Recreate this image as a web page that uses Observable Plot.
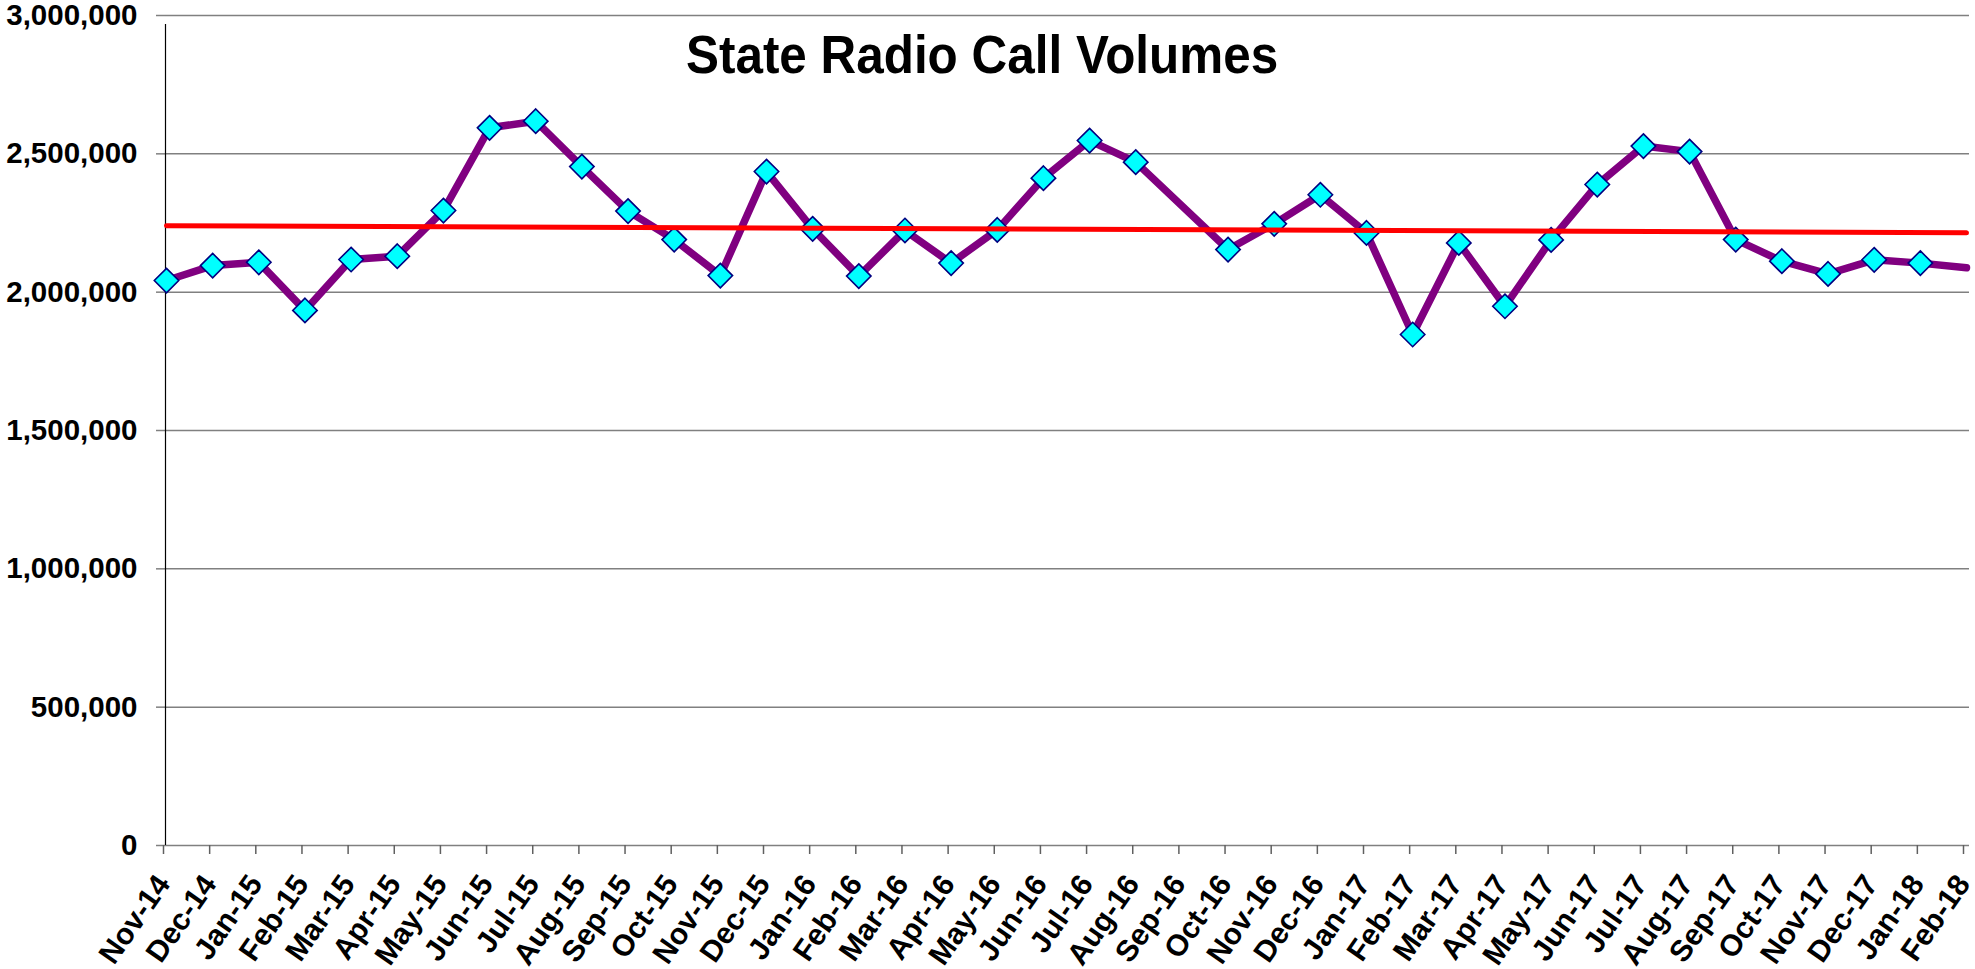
<!DOCTYPE html>
<html>
<head>
<meta charset="utf-8">
<script src="https://cdn.jsdelivr.net/npm/d3@7"></script>
<script src="https://cdn.jsdelivr.net/npm/@observablehq/plot@0.6"></script>
<style>
  html, body { margin: 0; padding: 0; background: #fff; }
  #wrap { position: relative; width: 1975px; height: 969px; }
  #title {
    position: absolute; left: 686px; top: 27px;
    font-family: "Liberation Sans", Arial, sans-serif; font-weight: bold;
    font-size: 54px; line-height: 54px; white-space: nowrap;
    transform: scaleX(0.915); transform-origin: 0 0; color: #000;
  }
</style>
</head>
<body>
<div id="wrap"><div id="title">State Radio Call Volumes</div></div>
<script>
const months = ["Nov-14","Dec-14","Jan-15","Feb-15","Mar-15","Apr-15","May-15","Jun-15","Jul-15","Aug-15","Sep-15","Oct-15","Nov-15","Dec-15","Jan-16","Feb-16","Mar-16","Apr-16","May-16","Jun-16","Jul-16","Aug-16","Sep-16","Oct-16","Nov-16","Dec-16","Jan-17","Feb-17","Mar-17","Apr-17","May-17","Jun-17","Jul-17","Aug-17","Sep-17","Oct-17","Nov-17","Dec-17","Jan-18","Feb-18"];
const calls = [2042000,2096000,2108000,1934000,2118000,2130000,2295000,2594000,2618000,2454000,2293000,2190000,2060000,2436000,2229000,2058000,2223000,2105000,2225000,2412000,2548000,2470000,null,2154000,2247000,2352000,2214000,1847000,2178000,1949000,2189000,2389000,2528000,2508000,2190000,2112000,2066000,2117000,2105000,2088000];
const yTicks = [0,500000,1000000,1500000,2000000,2500000,3000000];

const rows = months.map((m, i) => ({i, month: m, calls: calls[i]}));
const valid = rows.filter(d => d.calls != null);
const markerRows = valid.filter(d => d.i < months.length - 1);

const chart = Plot.plot({
  width: 1975, height: 969,
  marginLeft: 165, marginRight: 6, marginTop: 15, marginBottom: 124,
  style: {fontFamily: "'Liberation Sans', Arial, sans-serif", fontWeight: "bold", color: "black", background: "white"},
  x: {type: "linear", domain: [0, months.length - 1], range: [166, 1966]},
  y: {domain: [0, 3000000], range: [845, 15]},
  marks: [
    Plot.ruleY(yTicks, {stroke: "#808080", strokeWidth: 1.5}),
    Plot.axisY({ticks: yTicks, tickFormat: d3.format(","), tickSize: 9, tickPadding: 19, fontSize: 29.5, stroke: "#808080", strokeWidth: 1.5, fill: "black", label: null}),
    Plot.axisX({ticks: d3.range(months.length), tickFormat: i => months[i], tickRotate: -55, tickSize: 9, tickPadding: 24, fontSize: 30, dx: -3, stroke: "#606060", strokeWidth: 1.5, fill: "black", label: null}),
    Plot.ruleX([0], {y1: 0, y2: 3000000, dx: -1, insetBottom: -9, stroke: "black", strokeWidth: 1.2}),
    Plot.line(valid, {x: "i", y: "calls", stroke: "#800080", strokeWidth: 7.5, strokeLinejoin: "round"}),
    Plot.dot(markerRows, {x: "i", y: "calls", symbol: "diamond2", r: 11, fill: "#00FFFF", stroke: "#000080", strokeWidth: 1.6}),
    Plot.linearRegressionY(valid, {x: "i", y: "calls", stroke: "#FF0000", strokeWidth: 5, ci: 0})
  ]
});
document.getElementById("wrap").prepend(chart);
</script>
</body>
</html>
